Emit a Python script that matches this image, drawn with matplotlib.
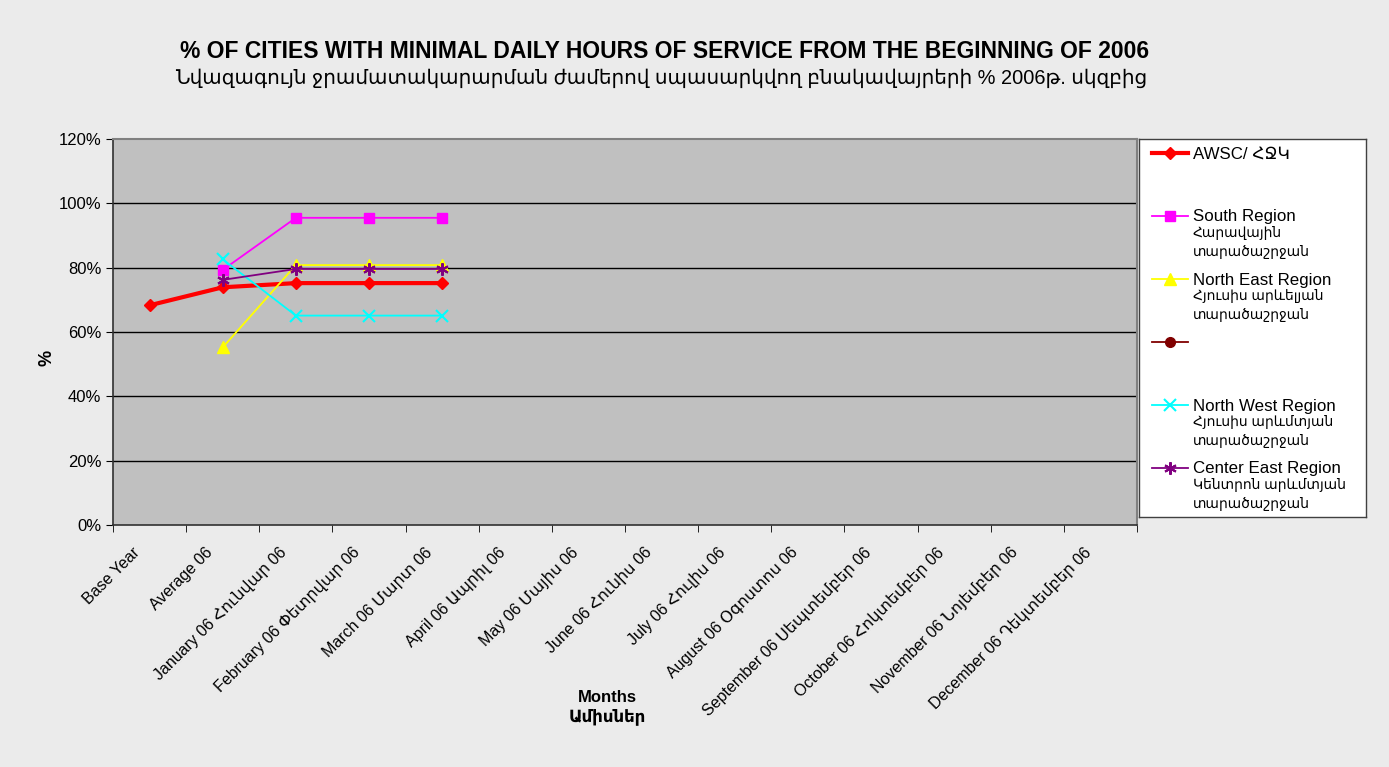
import numpy as np
import matplotlib
matplotlib.use("Agg")
import matplotlib.pyplot as plt
import matplotlib.transforms as mtransforms
from matplotlib.ticker import FixedLocator, PercentFormatter

plt.rcParams["font.family"] = ["Liberation Sans", "DejaVu Sans"]

# categories along the x axis
categories = [
    "Base Year", "Average 06", "January 06 Հունվար 06", "February 06 Փետրվար 06",
    "March 06 Մարտ 06", "April 06 Ապրիլ 06", "May 06 Մայիս 06", "June 06 Հունիս 06",
    "July 06 Հուլիս 06", "August 06 Օգոստոս 06", "September 06 Սեպտեմբեր 06",
    "October 06 Հոկտեմբեր 06", "November 06 Նոյեմբեր 06", "December 06 Դեկտեմբեր 06",
]

# values (%), AWSC starts at Base Year, regions start at Average 06
awsc = [68.3, 73.9, 75.2, 75.2, 75.2]
south = [79.3, 95.5, 95.5, 95.5]
north_east = [55.2, 80.8, 80.8, 80.8]
unnamed = []
north_west = [82.6, 65.1, 65.1, 65.1]
center_east = [76.2, 79.6, 79.6, 79.6]

legend_en = ["AWSC/ ՀՋԿ", "South Region", "North East Region", "", "North West Region", "Center East Region"]
legend_am = [
    "",
    "Հարավային\nտարածաշրջան",
    "Հյուսիս արևելյան\nտարածաշրջան",
    "",
    "Հյուսիս արևմտյան\nտարածաշրջան",
    "Կենտրոն արևմտյան\nտարածաշրջան",
]

W, H = 1389, 767
fig = plt.figure(figsize=(W / 100, H / 100), dpi=100)
fig.patch.set_facecolor("#ebebeb")

ax = fig.add_axes([113 / W, 1 - 525 / H, 1024 / W, 386 / H])
ax.set_facecolor("#c0c0c0")

x = np.arange(len(categories))
styles = [
    dict(color="#ff0000", lw=3, marker="D", ms=6),
    dict(color="#ff00ff", lw=1.3, marker="s", ms=7),
    dict(color="#ffff00", lw=1.3, marker="^", ms=8),
    dict(color="#800000", lw=1.3, marker="o", ms=7),
    dict(color="#00ffff", lw=1.3, marker="x", ms=8, mew=1.5),
    dict(color="#800080", lw=1.3, marker=(6, 2, 0), ms=9, mew=1.5),
]
series = [awsc, south, north_east, unnamed, north_west, center_east]
starts = [0, 1, 1, 1, 1, 1]

for vals, s0, st in zip(series, starts, styles):
    if vals:
        ax.plot(x[s0:s0 + len(vals)], vals, zorder=3, **st)

ax.set_xlim(-0.5, len(categories) - 0.5)
ax.set_ylim(0, 120)
ax.set_yticks(np.arange(0, 121, 20))
ax.yaxis.set_major_formatter(PercentFormatter(decimals=0))
for yv in range(20, 120, 20):
    ax.axhline(yv, color="black", lw=1, zorder=1)

# category labels: rotated, right end a little left of the category centre
ax.set_xticks([])
lab_tr = ax.get_xaxis_transform() + mtransforms.ScaledTranslation(-0.12, -0.25, fig.dpi_scale_trans)
for xi, cat in zip(x, categories):
    ax.text(xi, 0, cat, transform=lab_tr, rotation=45, ha="right", va="center",
            rotation_mode="anchor", fontsize=11.5)
ax.xaxis.set_minor_locator(FixedLocator(np.arange(-0.5, len(categories), 1)))
ax.tick_params(axis="x", which="minor", length=5, direction="out")
ax.tick_params(axis="y", length=5, direction="out", labelsize=12)

for side in ["top", "right"]:
    ax.spines[side].set_color("#808080")
    ax.spines[side].set_linewidth(1.5)
for side in ["left", "bottom"]:
    ax.spines[side].set_color("#303030")
    ax.spines[side].set_linewidth(1.2)

fig.text(665 / W, 1 - 52 / H, "% OF CITIES WITH MINIMAL DAILY HOURS OF SERVICE FROM THE BEGINNING OF 2006",
         ha="center", va="center", fontsize=16.5, fontweight="bold")
fig.text(661 / W, 1 - 78 / H, "Նվազագույն ջրամատակարարման ժամերով սպասարկվող բնակավայրերի % 2006թ. սկզբից",
         ha="center", va="center", fontsize=14.4)
fig.text(47 / W, 1 - 358 / H, "%", ha="center", va="center", rotation=90, fontsize=13, fontweight="bold")
fig.text(607 / W, 1 - 697 / H, "Months", ha="center", va="center", fontsize=12, fontweight="bold")
fig.text(607 / W, 1 - 717 / H, "Ամիսներ", ha="center", va="center", fontsize=12, fontweight="bold")

# legend box, drawn like the Excel one
lax = fig.add_axes([1139 / W, 1 - 517 / H, 227 / W, 378 / H])
lax.set_xlim(0, 227)
lax.set_ylim(378, 0)
lax.set_xticks([])
lax.set_yticks([])
lax.set_facecolor("white")
for sp in lax.spines.values():
    sp.set_color("#404040")
    sp.set_linewidth(1)
for i, (en, am, st) in enumerate(zip(legend_en, legend_am, styles)):
    yy = 14 + i * 63
    line_st = {k: v for k, v in st.items() if k not in ("marker", "ms", "mew")}
    lax.plot([13, 49], [yy, yy], **line_st)
    lax.plot([31], [yy], ls="none", **{k: v for k, v in st.items() if k != "lw"})
    lax.text(54, yy + 1, en, ha="left", va="center", fontsize=12.2)
    if am:
        lax.text(54, yy + 10, am, ha="left", va="top", fontsize=10, linespacing=1.45)

fig.savefig("out.png", dpi=100, facecolor=fig.get_facecolor())
